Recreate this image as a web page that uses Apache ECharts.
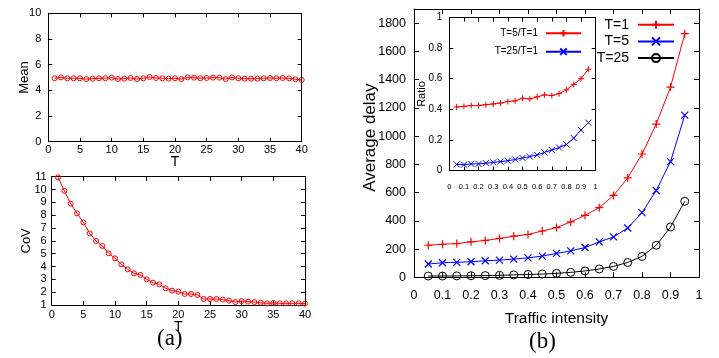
<!DOCTYPE html>
<html>
<head>
<meta charset="utf-8">
<script src="https://cdn.jsdelivr.net/npm/echarts@6/dist/echarts.min.js"></script>
<style>html,body{margin:0;padding:0;background:#fff;}#c{width:719px;height:358px;}</style>
</head>
<body>
<div id="c"></div>
<script>
// ---- data ----
const tValues = [1,2,3,4,5,6,7,8,9,10,11,12,13,14,15,16,17,18,19,20,21,22,23,24,25,26,27,28,29,30,31,32,33,34,35,36,37,38,39,40];
const meanValues = [4.94,5.01,4.94,4.94,4.94,4.88,4.91,4.94,4.94,4.99,4.88,4.91,4.96,4.88,4.94,5.04,4.96,4.94,4.91,4.94,4.88,5.01,4.99,4.94,4.96,4.99,4.99,4.88,5.01,4.94,4.91,4.91,4.91,4.94,4.96,4.94,4.96,4.94,4.86,4.81];
const covValues = [10.95,9.9,8.9,8.14,7.44,6.58,5.99,5.6,5.03,4.64,4.17,3.78,3.47,3.34,3.0,2.74,2.61,2.3,2.12,2.04,1.86,1.86,1.78,1.47,1.47,1.47,1.42,1.34,1.23,1.31,1.26,1.23,1.18,1.13,1.16,1.13,1.13,1.13,1.13,1.1];
const rhoValues = [0.05,0.1,0.15,0.2,0.25,0.3,0.35,0.4,0.45,0.5,0.55,0.6,0.65,0.7,0.75,0.8,0.85,0.9,0.95];
const delayT1 = [227,234,239,251,261,275,291,303,328,352,392,439,493,580,704,873,1085,1347,1725];
const delayT5 = [94,103,106,110,117,122,129,138,150,169,187,211,251,286,349,458,615,819,1148];
const delayT25 = [9,9,10,11,12,14,17,20,23,28,35,45,59,77,105,148,227,356,538];
const ratio5 = [0.415,0.419,0.425,0.425,0.43,0.435,0.441,0.451,0.455,0.472,0.468,0.481,0.494,0.49,0.502,0.527,0.563,0.6,0.662];
const ratio25 = [0.04,0.038,0.043,0.043,0.048,0.053,0.058,0.064,0.072,0.082,0.091,0.102,0.118,0.134,0.15,0.17,0.212,0.265,0.313];

const FONT = 'Liberation Sans, Arial, sans-serif';
const pairs = (xs, ys) => xs.map((x, i) => [x, ys[i]]);
const PLUS = 'path://M0,5L10,5M5,0L5,10';
const CROSS = 'path://M0,0L10,10M0,10L10,0';
const plain = v => String(Math.round(v * 1000) / 1000);

function xAx(grid, min, max, interval, opts) {
  const o = Object.assign({
    type: 'value', gridIndex: grid, min: min, max: max, interval: interval,
    axisLine: {show: true, onZero: false, lineStyle: {color: '#000', width: 1}},
    axisTick: {show: true, inside: true, length: 4, lineStyle: {color: '#000'}},
    splitLine: {show: false},
    nameMoveOverlap: false,
    axisLabel: {color: '#000', fontFamily: FONT, fontSize: 11, margin: 3, formatter: plain}
  }, opts || {});
  return o;
}
function mirror(base, pos) {
  return Object.assign({}, base, {position: pos, name: '', axisLabel: {show: false}});
}

const ax = [], ay = [];
// grid 0: Mean
const x0 = xAx(0, 0, 40, 5, {position: 'bottom', name: 'T', nameLocation: 'middle', nameGap: 13,
  nameTextStyle: {fontFamily: FONT, fontSize: 14, color: '#000'}});
const y0 = xAx(0, 0, 10, 2, {position: 'left', name: 'Mean', nameLocation: 'middle', nameGap: 17,
  nameTextStyle: {fontFamily: FONT, fontSize: 13, color: '#000'},
  axisLabel: {color: '#000', fontFamily: FONT, fontSize: 11, margin: 7, formatter: plain}});
ax.push(x0, mirror(x0, 'top')); ay.push(y0, mirror(y0, 'right'));
// grid 1: CoV
const x1 = xAx(1, 0, 40, 5, {position: 'bottom', name: 'T', nameLocation: 'middle', nameGap: 15,
  nameTextStyle: {fontFamily: FONT, fontSize: 14, color: '#000'},
  axisLabel: {color: '#000', fontFamily: FONT, fontSize: 11, margin: 4, formatter: plain}});
const y1 = xAx(1, 1, 11, 1, {position: 'left', name: 'CoV', nameLocation: 'middle', nameGap: 19,
  nameTextStyle: {fontFamily: FONT, fontSize: 13, color: '#000'},
  axisLabel: {color: '#000', fontFamily: FONT, fontSize: 11, margin: 5, formatter: plain}});
ax.push(x1, mirror(x1, 'top')); ay.push(y1, mirror(y1, 'right'));
// grid 2: main delay
const x2 = xAx(2, 0, 1, 0.1, {position: 'bottom', name: 'Traffic intensity', nameLocation: 'middle', nameGap: 33,
  nameTextStyle: {fontFamily: FONT, fontSize: 15.5, color: '#000'},
  axisTick: {show: true, inside: true, length: 5, lineStyle: {color: '#000'}},
  axisLabel: {color: '#000', fontFamily: FONT, fontSize: 12.5, margin: 12, formatter: plain}});
const y2 = xAx(2, 0, 1900, 200, {position: 'left', name: 'Average delay', nameLocation: 'middle', nameGap: 35,
  nameTextStyle: {fontFamily: FONT, fontSize: 17, color: '#000', padding: [0, 0, 0, 11]},
  axisTick: {show: true, inside: true, length: 5, lineStyle: {color: '#000'}},
  axisLabel: {color: '#000', fontFamily: FONT, fontSize: 12.5, margin: 8, showMaxLabel: false, formatter: plain}});
ax.push(x2, mirror(x2, 'top')); ay.push(y2, mirror(y2, 'right'));
// grid 3: inset ratio
const x3 = xAx(3, 0, 1, 0.1, {position: 'bottom',
  axisLabel: {color: '#000', fontFamily: FONT, fontSize: 7.5, margin: 12, formatter: plain}});
const y3 = xAx(3, 0, 1, 0.2, {position: 'left', name: 'Ratio', nameLocation: 'middle', nameGap: 22,
  nameTextStyle: {fontFamily: FONT, fontSize: 11, color: '#000'},
  axisLabel: {color: '#000', fontFamily: FONT, fontSize: 10, margin: 7, formatter: plain}});
ax.push(x3, mirror(x3, 'top')); ay.push(y3, mirror(y3, 'right'));

const chart = echarts.init(document.getElementById('c'), null, {renderer: 'canvas'});
chart.setOption({
  animation: false,
  backgroundColor: '#fff',
  grid: [
    {left: 48.3, top: 13.3, width: 253.4, height: 128.4},
    {left: 51.7, top: 176.7, width: 253.3, height: 128.3},
    {left: 414, top: 9, width: 285, height: 268.3},
    {left: 449.3, top: 17.5, width: 146.4, height: 153}
  ],
  xAxis: ax,
  yAxis: ay,
  legend: [
    {
      data: ['T=1', 'T=5', 'T=25'], orient: 'vertical', align: 'right',
      right: 44, top: 17.7, padding: 0, itemWidth: 36, itemHeight: 10, itemGap: 2.7,
      textStyle: {fontFamily: FONT, fontSize: 14, lineHeight: 14, color: '#000', padding: [0, 4, 0, 0]},
      inactiveColor: '#000'
    },
    {
      data: ['T=5/T=1', 'T=25/T=1'], orient: 'vertical', align: 'right',
      right: 137, top: 27.3, padding: 0, itemWidth: 35, itemHeight: 8, itemGap: 6.4,
      textStyle: {fontFamily: FONT, fontSize: 10, lineHeight: 12, color: '#000', padding: [0, 3, 0, 0]}
    }
  ],
  graphic: [
    {type: 'text', left: 157, top: 327, style: {text: '(a)', font: '23px "Liberation Serif", serif', fill: '#000'}},
    {type: 'text', left: 529, top: 330, style: {text: '(b)', font: '23px "Liberation Serif", serif', fill: '#000'}}
  ],
  series: [
    {type: 'line', name: 'mean', xAxisIndex: 0, yAxisIndex: 0, data: pairs(tValues, meanValues),
      symbol: 'circle', symbolSize: 5, lineStyle: {color: '#f00', width: 1},
      itemStyle: {color: 'none', borderColor: '#f00', borderWidth: 1}},
    {type: 'line', name: 'cov', xAxisIndex: 2, yAxisIndex: 2, data: pairs(tValues, covValues),
      symbol: 'circle', symbolSize: 5, lineStyle: {color: '#f00', width: 1},
      itemStyle: {color: 'none', borderColor: '#f00', borderWidth: 1}},
    {type: 'line', name: 'T=1', xAxisIndex: 4, yAxisIndex: 4, data: pairs(rhoValues, delayT1),
      symbol: PLUS, symbolSize: 8, color: '#f00', lineStyle: {color: '#f00', width: 1},
      itemStyle: {color: '#f00', borderColor: '#f00', borderWidth: 1.2}},
    {type: 'line', name: 'T=5', xAxisIndex: 4, yAxisIndex: 4, data: pairs(rhoValues, delayT5),
      symbol: CROSS, symbolSize: 7, color: '#00f', lineStyle: {color: '#00f', width: 1},
      itemStyle: {color: '#00f', borderColor: '#00f', borderWidth: 1.2}},
    {type: 'line', name: 'T=25', xAxisIndex: 4, yAxisIndex: 4, data: pairs(rhoValues, delayT25),
      symbol: 'circle', symbolSize: 8, color: '#000', lineStyle: {color: '#000', width: 1},
      itemStyle: {color: 'none', borderColor: '#000', borderWidth: 1}},
    {type: 'line', name: 'T=5/T=1', xAxisIndex: 6, yAxisIndex: 6, data: pairs(rhoValues, ratio5),
      symbol: PLUS, symbolSize: 6, color: '#f00', lineStyle: {color: '#f00', width: 1},
      itemStyle: {color: '#f00', borderColor: '#f00', borderWidth: 1}},
    {type: 'line', name: 'T=25/T=1', xAxisIndex: 6, yAxisIndex: 6, data: pairs(rhoValues, ratio25),
      symbol: CROSS, symbolSize: 6, color: '#00f', lineStyle: {color: '#00f', width: 1},
      itemStyle: {color: '#00f', borderColor: '#00f', borderWidth: 1}}
  ]
});
</script>
</body>
</html>
